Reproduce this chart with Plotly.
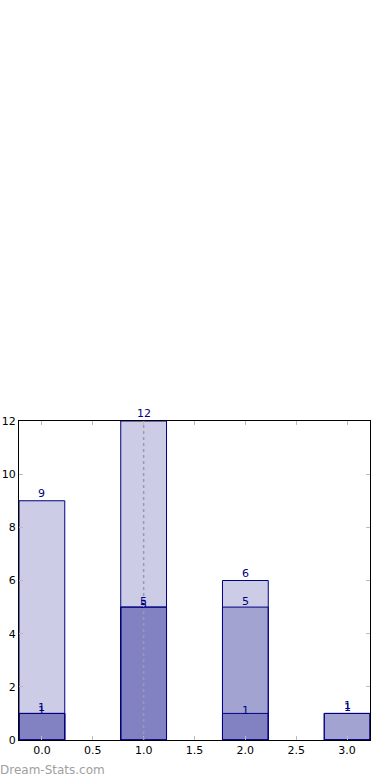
import plotly.graph_objects as go

categories = [0, 1, 2, 3]
series_a = [9, 12, 6, 1]
series_b = [1, 5, 5, 1]
series_c = [1, 5, 1, 0]
marker_x = 1.0
x_ticks = [0, 0.5, 1, 1.5, 2, 2.5, 3]
y_ticks = [0, 2, 4, 6, 8, 10, 12]

navy = "#000080"
fill = "rgba(0,0,128,0.2)"

fig = go.Figure()
for vals in (series_a, series_b, series_c):
    fig.add_trace(go.Bar(
        x=categories, y=vals, width=0.45,
        marker=dict(color=fill, line=dict(color=navy, width=1)),
        hoverinfo="skip", showlegend=False,
    ))

shifts = [-1, -3, -6]
for vals, sh in zip((series_a, series_b, series_c), shifts):
    for xv, yv in zip(categories, vals):
        if yv == 0:
            continue
        fig.add_annotation(x=xv, y=yv, text=str(yv), showarrow=False,
                           yanchor="bottom", yshift=sh,
                           font=dict(family="DejaVu Sans", size=11, color=navy))

fig.add_shape(type="line", x0=marker_x, x1=marker_x, y0=0, y1=12, layer="above",
              xref="x", yref="y", line=dict(color="#9a9ab4", width=1.5, dash="dot"))

fig.add_annotation(x=0, y=0, xref="paper", yref="paper", xanchor="left", yanchor="top",
                   text="Dream-Stats.com", showarrow=False,
                   xshift=-21, yshift=-21,
                   font=dict(family="DejaVu Sans", size=12, color="#a0a0a0"))

fig.update_layout(
    width=390, height=780, barmode="overlay",
    margin=dict(l=19, r=20, t=421, b=40, autoexpand=False),
    paper_bgcolor="white", plot_bgcolor="white",
    font=dict(family="DejaVu Sans", size=11, color="black"),
)
fig.update_xaxes(range=[-0.225, 3.225], tickvals=x_ticks, tickformat=".1f", automargin=False,
                 showgrid=False, zeroline=False, showline=True, linecolor="black", linewidth=1,
                 mirror="allticks", ticks="inside", ticklen=4, tickcolor="#bbbbbb")
fig.update_yaxes(range=[0, 12], tickvals=y_ticks, automargin=False,
                 showgrid=False, zeroline=False, showline=True, linecolor="black", linewidth=1,
                 mirror="allticks", ticks="inside", ticklen=4, tickcolor="#bbbbbb")

fig.write_html("out.html", config={"displayModeBar": False},
               post_script="document.body.style.margin='0';document.body.style.overflow='hidden';")
